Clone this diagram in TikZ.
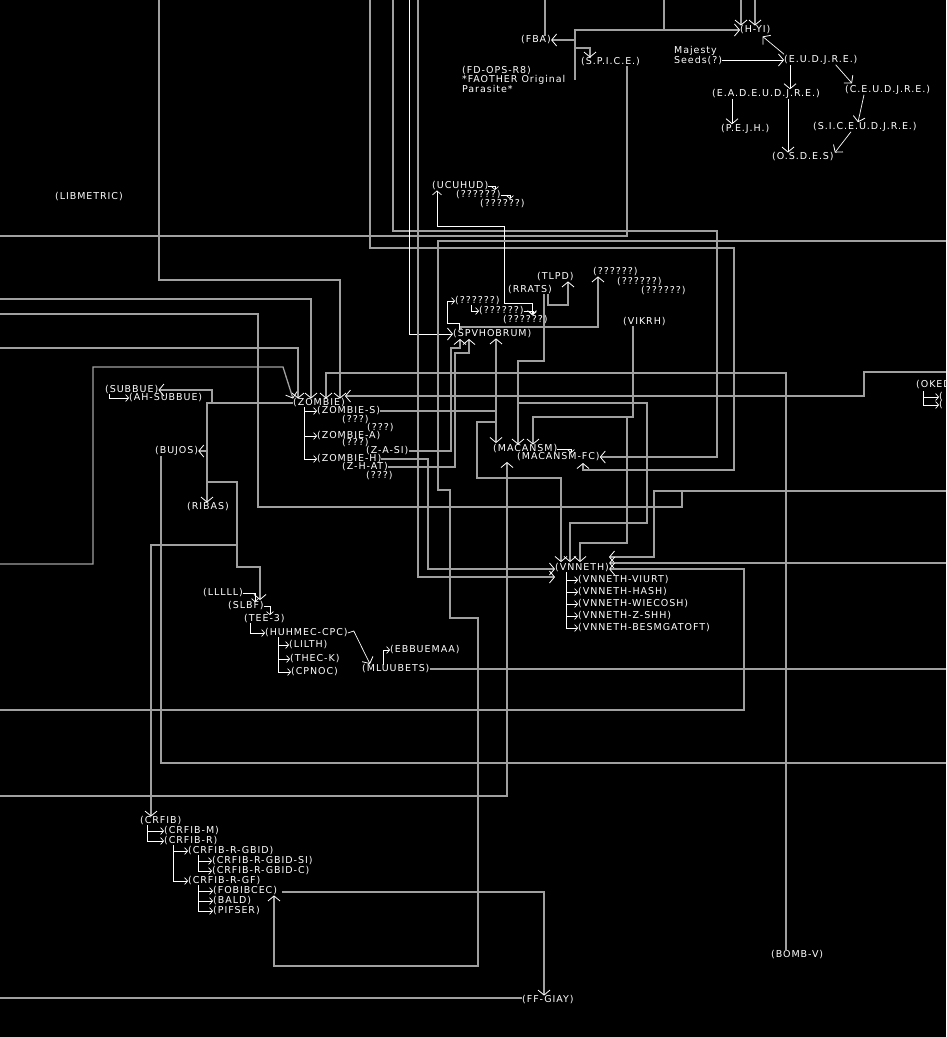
\documentclass[tikz,border=0pt]{standalone}
\usepackage{fontspec}
\setmainfont{DejaVu Sans}[LetterSpace=10]
\usetikzlibrary{arrows.meta,calc}
\definecolor{lg}{HTML}{A0A0A0}
\begin{document}
\begin{tikzpicture}[x=1pt,y=-1pt,
  lbl/.style={anchor=west,inner sep=0pt,text=white,font=\fontsize{9.5}{9.5}\selectfont},
  bus/.style={draw=lg,line width=1.3pt},
  wline/.style={draw=white,line width=0.7pt},
  arr/.style={-{Straight Barb[length=5pt,width=12pt,color=white,line width=0.8pt]}},
  sarr/.style={-{Straight Barb[length=3pt,width=7pt,color=white,line width=0.7pt]}},
  barr/.style={{Straight Barb[length=4pt,width=9pt,color=white,line width=0.7pt]}-{Straight Barb[length=4pt,width=9pt,color=white,line width=0.7pt]}}
]
\fill[black] (0,0) rectangle (946,1037);
\useasboundingbox (0,0) rectangle (946,1037);

% ---------- edge coordinates ----------
\coordinate (t159) at (159,0);
\coordinate (t370) at (370,0);
\coordinate (t393) at (393,0);
\coordinate (t409) at (409,0);
\coordinate (t418) at (418,0);
\coordinate (t545) at (545,0);
\coordinate (t664) at (664,0);
\coordinate (t741) at (741,0);
\coordinate (t755) at (755,0);
\coordinate (l236) at (0,236);
\coordinate (l299) at (0,299);
\coordinate (l314) at (0,314);
\coordinate (l348) at (0,348);
\coordinate (l564) at (0,564);
\coordinate (l710) at (0,710);
\coordinate (l796) at (0,796);
\coordinate (l998) at (0,998);
\coordinate (e241) at (946,241);
\coordinate (e372) at (946,372);
\coordinate (e491) at (946,491);
\coordinate (e563) at (946,563);
\coordinate (e669) at (946,669);
\coordinate (e763) at (946,763);

% ---------- nodes ----------
\node[lbl] (hyi) at (740,30) {(H-YI)};
\node[lbl] (fba) at (521,40) {(FBA)};
\node[lbl] (spice) at (581,62) {(S.P.I.C.E.)};
\node[lbl,anchor=north west,align=left] (fdops) at (462,66) {(FD-OPS-R8)\\*FAOTHER Original\\Parasite*};
\node[lbl,anchor=north west,align=left,font=\fontsize{9.5}{10}\selectfont] (majesty) at (674,46) {Majesty\\Seeds(?)};
\node[lbl] (eudjre) at (784,60) {(E.U.D.J.R.E.)};
\node[lbl] (eadeudjre) at (712,94) {(E.A.D.E.U.D.J.R.E.)};
\node[lbl] (ceudjre) at (845,90) {(C.E.U.D.J.R.E.)};
\node[lbl] (pejh) at (721,129) {(P.E.J.H.)};
\node[lbl] (siceudjre) at (813,127) {(S.I.C.E.U.D.J.R.E.)};
\node[lbl] (osdes) at (772,157) {(O.S.D.E.S)};

\node[lbl] (libmetric) at (55,197) {(LIBMETRIC)};
\node[lbl] (ucuhud) at (432,186) {(UCUHUD)};
\node[lbl] (q1) at (456,195) {(??????)};
\node[lbl] (q2) at (480,204) {(??????)};
\node[lbl] (tlpd) at (537,277) {(TLPD)};
\node[lbl] (rrats) at (508,290) {(RRATS)};
\node[lbl] (q3) at (593,272) {(??????)};
\node[lbl] (q4) at (617,282) {(??????)};
\node[lbl] (q5) at (641,291) {(??????)};
\node[lbl] (q6) at (455,301) {(??????)};
\node[lbl] (q7) at (479,311) {(??????)};
\node[lbl] (q8) at (503,320) {(??????)};
\node[lbl] (vikrh) at (623,322) {(VIKRH)};
\node[lbl] (spvhobrum) at (453,334) {(SPVHOBRUM)};

\node[lbl] (subbue) at (105,390) {(SUBBUE)};
\node[lbl] (ahsubbue) at (129,398) {(AH-SUBBUE)};
\node[lbl] (zombie) at (293,403) {(ZOMBIE)};
\node[lbl] (zombies) at (317,411) {(ZOMBIE-S)};
\node[lbl] (qa) at (342,420) {(???)};
\node[lbl] (qb) at (367,428) {(???)};
\node[lbl] (zombiea) at (317,436) {(ZOMBIE-A)};
\node[lbl] (qc) at (342,443) {(???)};
\node[lbl] (zasi) at (366,451) {(Z-A-SI)};
\node[lbl] (zombieh) at (317,459) {(ZOMBIE-H)};
\node[lbl] (zhat) at (342,467) {(Z-H-AT)};
\node[lbl] (qd) at (366,476) {(???)};
\node[lbl] (bujos) at (155,451) {(BUJOS)};
\node[lbl] (ribas) at (187,507) {(RIBAS)};
\node[lbl] (macansm) at (493,449) {(MACANSM)};
\node[lbl] (macansmfc) at (517,457) {(MACANSM-FC)};
\node[lbl] (oked) at (916,385) {(OKED};
\node[lbl] (okeda) at (939,397) {(};
\node[lbl] (okedb) at (939,405) {(};

\node[lbl] (vnneth) at (555,568) {(VNNETH)};
\node[lbl] (vnviurt) at (578,580) {(VNNETH-VIURT)};
\node[lbl] (vnhash) at (578,592) {(VNNETH-HASH)};
\node[lbl] (vnwiecosh) at (578,604) {(VNNETH-WIECOSH)};
\node[lbl] (vnzshh) at (578,616) {(VNNETH-Z-SHH)};
\node[lbl] (vnbesm) at (578,628) {(VNNETH-BESMGATOFT)};

\node[lbl] (lllll) at (203,593) {(LLLLL)};
\node[lbl] (slbf) at (228,606) {(SLBF)};
\node[lbl] (tee3) at (244,619) {(TEE-3)};
\node[lbl] (huhmec) at (265,633) {(HUHMEC-CPC)};
\node[lbl] (lilth) at (289,645) {(LILTH)};
\node[lbl] (theck) at (290,659) {(THEC-K)};
\node[lbl] (cpnoc) at (291,672) {(CPNOC)};
\node[lbl] (ebbuemaa) at (390,650) {(EBBUEMAA)};
\node[lbl] (mluubets) at (362,669) {(MLUUBETS)};

\node[lbl] (crfib) at (140,821) {(CRFIB)};
\node[lbl] (crfibm) at (164,831) {(CRFIB-M)};
\node[lbl] (crfibr) at (164,841) {(CRFIB-R)};
\node[lbl] (gbid) at (188,851) {(CRFIB-R-GBID)};
\node[lbl] (gbidsi) at (212,861) {(CRFIB-R-GBID-SI)};
\node[lbl] (gbidc) at (212,871) {(CRFIB-R-GBID-C)};
\node[lbl] (gf) at (188,881) {(CRFIB-R-GF)};
\node[lbl] (fobibcec) at (213,891) {(FOBIBCEC)};
\node[lbl] (bald) at (213,901) {(BALD)};
\node[lbl] (pifser) at (213,911) {(PIFSER)};
\node[lbl] (ffgiay) at (522,1000) {(FF-GIAY)};
\node[lbl] (bombv) at (771,955) {(BOMB-V)};

% ---------- top cluster ----------
\draw[bus] (t545) -- (t545 |- fba.north);
\draw[bus] (t664) -- (664,29);
\draw[bus,arr] (t741) -- (t741 |- hyi.north);
\draw[bus,arr] (t755) -- (t755 |- hyi.north);
\coordinate (fdj) at (575,80);
\draw[bus,arr] (fdj) |- (hyi.west);
\draw[bus,arr] (fdj |- fba.east) -- (fba.east);
\draw[bus,arr] (575,48) -| ($(spice.north west)+(9,0)$);
\draw[wline,arr] (eudjre.west -| majesty.east) -- (eudjre.west);
\draw[wline,arr] ($(eudjre.north west)+(0,-1)$) -- ($(hyi.south east)+(-8,2)$);
\draw[wline,arr] (eudjre.south -| 790,0) -- (eadeudjre.north -| 790,0);
\draw[wline,arr] ($(eudjre.south east)+(-22,0)$) -- ($(ceudjre.north west)+(7,-2)$);
\draw[wline,arr] (eadeudjre.south -| 732,0) -- (pejh.north -| 732,0);
\draw[wline,arr] (eadeudjre.south -| 788,0) -- (osdes.north -| 788,0);
\draw[wline,arr] ($(ceudjre.south west)+(19,0)$) -- ($(siceudjre.north west)+(45,0)$);
\draw[wline,arr] ($(siceudjre.south west)+(38,0)$) -- ($(osdes.north east)+(1,0)$);
\draw[bus] (spice.south -| 627,0) |- (l236);

% ---------- long verticals from top ----------
\draw[bus,arr] (t370) |- (734,248) |- (583,470) -- (583,463);
\draw[bus,arr] (t393) |- (717,231) |- (macansmfc.east);
\draw[wline,arr] (t409) |- (spvhobrum.west);
\draw[bus,arr] (t418) |- (vnneth.west |- 0,577);
\draw[bus,arr] (t159) |- (340,280) -- (340,280 |- zombie.north);

% ---------- ucuhud / spvhobrum ----------
\draw[wline,barr] (ucuhud.south -| 437,0) |- (504,226) |- (532,303) -- (532,315);
\draw[wline,sarr] (ucuhud.east) -| (495,190);
\draw[wline,sarr] (q1.east) -| (510,199);
\draw[wline,sarr] (spvhobrum.north -| 459,0) |- (447,323) |- (q6.west);
\draw[wline,sarr] (471,305) |- (q7.west);
\draw[wline,sarr] (q7.east) -| (533,315);
\draw[bus,arr] (spvhobrum.north -| 461,0) -- (461,327) -| (q3.south -| 598,0);
\draw[bus,arr] ($(rrats.south east)+(-4,0)$) |- (568,305) -- (tlpd.south -| 568,0);
\draw[bus,arr] ($(rrats.south east)+(-8,0)$) |- (518,361) -- (macansm.north -| 518,0);
\draw[bus,arr] (518,403) -| (647,523) -| (570,562);
\draw[bus,arr] (vikrh.south -| 633,0) |- (533,417) -- (macansm.north -| 533,0);
\draw[bus,arr] (627,417) |- (580,543) -- (580,562);

% ---------- zombie ----------
\draw[bus,arr] (l299) -| (311,280 |- zombie.north);
\draw[bus,arr] (l348) -| (298,280 |- zombie.north);
\draw[bus,arr] (l564) -| (93,367) -- (283,367) -- (zombie.north west);
\draw[bus,arr] (bombv.north -| 786,0) |- (326,373) -- (326,280 |- zombie.north);
\draw[bus,arr] (e372) -| (864,396) -- (zombie.east |- 0,396);
\draw[wline,sarr] (zombie.south -| 304,0) |- (zombies.west);
\draw[wline,sarr] (zombie.south -| 304,0) |- (zombiea.west);
\draw[wline,sarr] (zombie.south -| 304,0) |- (zombieh.west);
\draw[bus,arr] (zombies.east) -| (496,443);
\draw[bus,arr] (496,411) -- (spvhobrum.south -| 496,0);
\draw[bus,arr] (zasi.east) -| (451,348) -| (460,339);
\draw[bus,arr] (zhat.east) -| (455,353) -| (469,339);
\draw[bus,arr] (zombieh.east) -| (428,569) -- (vnneth.west |- 0,569);
\coordinate (zl) at (zombie.west -| 212,0);
\draw[bus,arr] (zombie.west) -- (zl) |- (subbue.east);
\draw[wline,sarr] (subbue.south -| 109,0) |- (ahsubbue.west);
\draw[bus,arr] (zl) -- (zombie.west -| 207,0) -- (ribas.north -| 207,0);
\draw[bus,arr] (bujos.east -| 207,0) -- (bujos.east);
\draw[bus,arr] (207,482) -| (237,567) -| (260,600);
\draw[bus,arr] (237,545) -| (crfib.north -| 151,0);
\draw[bus] (bujos.south -| 161,0) |- (e763);
\draw[bus] (l314) -| (258,507) -| (682,491);

% ---------- oked ----------
\draw[wline,sarr] (923,391) |- (okeda.west);
\draw[wline,sarr] (923,391) |- (okedb.west);

% ---------- macansm ----------
\draw[wline,sarr] (macansm.east) -| (571,453);
\draw[bus,arr] (496,422) -| (477,478) -| (561,562);
\draw[bus,arr] (l796) -| (507,462);

% ---------- vnneth ----------
\draw[bus,arr] (e491) -| (654,557) -- (609,557);
\draw[bus,arr] (e563) -- (e563 -| vnneth.east);
\draw[bus,arr] (l710) -| (744,569) -- (vnneth.east |- 0,569);
\draw[wline,sarr] (vnneth.south -| 566,0) |- (vnviurt.west);
\draw[wline,sarr] (vnneth.south -| 566,0) |- (vnhash.west);
\draw[wline,sarr] (vnneth.south -| 566,0) |- (vnwiecosh.west);
\draw[wline,sarr] (vnneth.south -| 566,0) |- (vnzshh.west);
\draw[wline,sarr] (vnneth.south -| 566,0) |- (vnbesm.west);

% ---------- slbf chain ----------
\draw[wline,sarr] (lllll.east) -| (255,602);
\draw[wline,sarr] (slbf.east) -| (270,615);
\draw[wline,sarr] (tee3.south -| 250,0) |- (huhmec.west);
\draw[wline,sarr] (huhmec.south -| 278,0) |- (lilth.west);
\draw[wline,sarr] (huhmec.south -| 278,0) |- (theck.west);
\draw[wline,sarr] (huhmec.south -| 278,0) |- (cpnoc.west);
\draw[wline,arr] (huhmec.east) -- ++(6,-2) -- (370,664);
\draw[wline,sarr] (mluubets.north -| 383,0) |- (ebbuemaa.west);
\draw[bus] (mluubets.east) -- (e669);

% ---------- crfib ----------
\draw[wline,sarr] (crfib.south -| 147,0) |- (crfibm.west);
\draw[wline,sarr] (crfib.south -| 147,0) |- (crfibr.west);
\draw[wline,sarr] (crfibr.south -| 173,0) |- (gbid.west);
\draw[wline,sarr] (crfibr.south -| 173,0) |- (gf.west);
\draw[wline,sarr] (gbid.south -| 198,0) |- (gbidsi.west);
\draw[wline,sarr] (gbid.south -| 198,0) |- (gbidc.west);
\draw[wline,sarr] (gf.south -| 198,0) |- (fobibcec.west);
\draw[wline,sarr] (gf.south -| 198,0) |- (bald.west);
\draw[wline,sarr] (gf.south -| 198,0) |- (pifser.west);
\draw[bus,arr] (e241) -| (438,490) -| (450,618) -| (478,966) -| (fobibcec.south -| 274,0);
\draw[bus,arr] ($(fobibcec.east)+(5,1)$) -| (ffgiay.north -| 544,0);
\draw[bus] (l998) -- (l998 -| ffgiay.west);
\end{tikzpicture}
\end{document}
